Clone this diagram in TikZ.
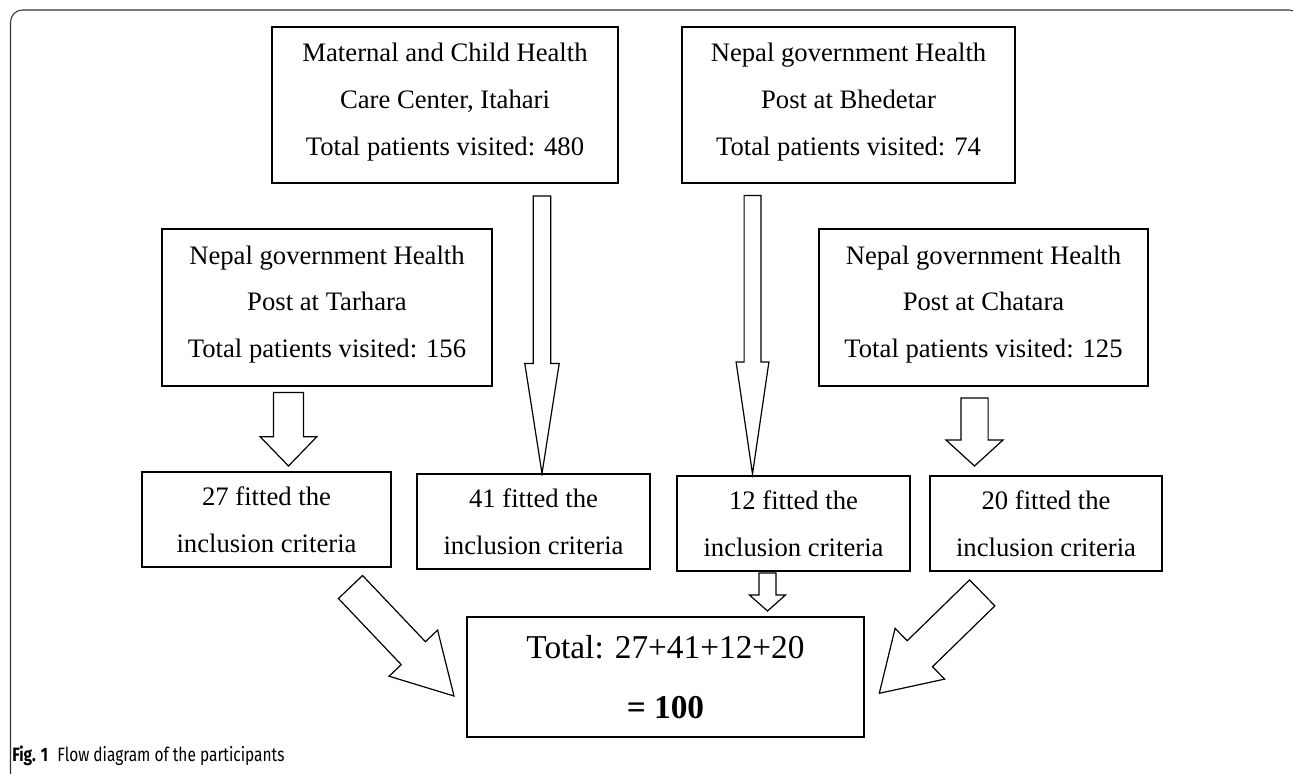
\documentclass[tikz,border=0pt]{standalone}
\usepackage{fontspec}
\setmainfont{Liberation Serif}
\newfontfamily\capfont[FakeStretch=0.8]{Fira Sans}
\usetikzlibrary{calc}

\tikzset{
  box/.style={draw, line width=1.1pt, inner sep=0pt},
  txt/.style={align=center, inner sep=0pt, font=\fontsize{20}{35}\selectfont},
  blockline/.style={draw, line width=0.9pt, line join=miter, fill=white},
  frame/.style={draw=black!80, line width=0.8pt, rounded corners=9pt},
}
% block arrow: tail, tip, shaft half width, head half width, head length
\newcommand{\blockarrow}[5]{%
  \coordinate (ba-base) at ($(#2)!#5!(#1)$);
  \draw[blockline] ($(#1)!#3!90:(#2)$) -- ($(ba-base)!#3!90:(#2)$) -- ($(ba-base)!#4!90:(#2)$) -- (#2)
    -- ($(ba-base)!#4!-90:(#2)$) -- ($(ba-base)!#3!-90:(#2)$) -- ($(#1)!#3!-90:(#2)$) -- cycle;
}

\begin{document}
\begin{tikzpicture}[x=0.75pt,y=0.75pt,yscale=-1,xscale=1]
\useasboundingbox (0,0) rectangle (1293,774);
\clip (0,0) rectangle (1293,774);
\draw[frame] (10.5,800) -- (10.5,10) -- (1301,10) -- (1301,800);

% centres
\node[box, minimum width=259.5pt, minimum height=117pt] (mch) at (445,105) {};
\node[box, minimum width=249.75pt, minimum height=117pt] (bhe) at (848.5,105) {};
\node[box, minimum width=247.5pt, minimum height=117.75pt] (tar) at (327,307.5) {};
\node[box, minimum width=246.75pt, minimum height=117.75pt] (cha) at (983.5,307.5) {};
\node[txt] (mch-t) at ($(mch)+(0,-3)$) {Maternal and Child Health\\Care Center, Itahari\\Total patients visited: 480};
\node[txt] (bhe-t) at ($(bhe)+(0,-3)$) {Nepal government Health\\Post at Bhedetar\\Total patients visited: 74};
\node[txt] (tar-t) at ($(tar)+(0,-3)$) {Nepal government Health\\Post at Tarhara\\Total patients visited: 156};
\node[txt] (cha-t) at ($(cha)+(0,-3)$) {Nepal government Health\\Post at Chatara\\Total patients visited: 125};

% criteria
\node[box, txt, minimum width=186.75pt, minimum height=71.25pt] (f27) at (266.5,519.5) {27 fitted the\\inclusion criteria};
\node[box, txt, minimum width=174.75pt, minimum height=71.25pt] (f41) at (533.5,521.5) {41 fitted the\\inclusion criteria};
\node[box, txt, minimum width=174.75pt, minimum height=71.25pt] (f12) at (793.5,523.5) {12 fitted the\\inclusion criteria};
\node[box, txt, minimum width=174pt, minimum height=71.25pt] (f20) at (1046,523.5) {20 fitted the\\inclusion criteria};

% total
\node[box, txt, font=\fontsize{25}{45}\selectfont, minimum width=297.75pt, minimum height=90pt] (tot) at (665.5,677) {Total: 27+41+12+20\\\textbf{= 100}};

% arrows
\coordinate (mch-out) at (542,196);   \coordinate (f41-in) at (542,473.5);
\coordinate (bhe-out) at (752.5,195.5); \coordinate (f12-in) at (752.5,474);
\coordinate (tar-out) at (288.5,392.5); \coordinate (f27-in) at (288.5,466);
\coordinate (cha-out) at (974.5,398);   \coordinate (f20-in) at (974.5,466);
\coordinate (f12-out) at (767.5,573);   \coordinate (tot-top) at (767.5,611);
\coordinate (f27-out) at (350.5,587);   \coordinate (tot-left) at (454,696);
\coordinate (f20-out) at (982.2,592.9); \coordinate (tot-right) at (879.3,693.3);

\blockarrow{mch-out}{f41-in}{6.6pt}{12.9pt}{82.5pt}
\blockarrow{bhe-out}{f12-in}{6.3pt}{12.3pt}{84pt}
\blockarrow{tar-out}{f27-in}{11.25pt}{21.3pt}{22pt}
\blockarrow{cha-out}{f20-in}{10.2pt}{21.4pt}{19.5pt}
\blockarrow{f12-out}{tot-top}{6.4pt}{13.5pt}{12pt}
\blockarrow{f27-out}{tot-left}{12.5pt}{25.1pt}{44.3pt}
\blockarrow{f20-out}{tot-right}{13.6pt}{26.6pt}{42.5pt}

% caption
\node[anchor=base west, inner sep=0pt] (cap) at (12,761) {\capfont\fontsize{14.5}{16}\selectfont\textbf{Fig. 1}\hspace{7pt}Flow diagram of the participants};
\end{tikzpicture}
\end{document}
